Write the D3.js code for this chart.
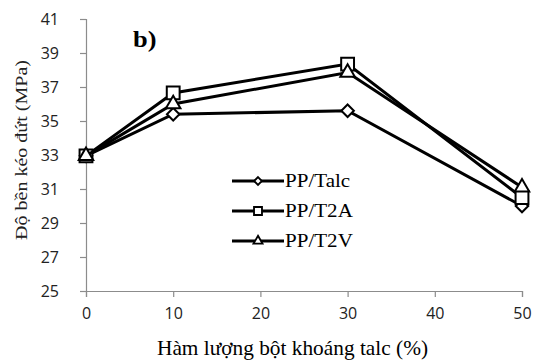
<!DOCTYPE html>
<html>
<head>
<meta charset="utf-8">
<script src="https://cdn.jsdelivr.net/npm/d3@7"></script>
<style>
  body { margin: 0; background: #fff; }
  .serif { font-family: 'Liberation Serif', 'Times New Roman', serif; }
</style>
</head>
<body>
<svg id="chart" width="539" height="363"></svg>
<script>
// talc content (%)
const talcContent = [0, 10, 30, 50]
const ppTalc = [32.95, 35.4, 35.6, 30.0]
const ppT2A = [32.95, 36.65, 38.35, 30.5]
const ppT2V = [32.95, 36.0, 37.85, 31.1]
const seriesNames = ['PP/Talc', 'PP/T2A', 'PP/T2V']
const seriesMarkers = ['diamond', 'square', 'triangle']
const xTicks = [0, 10, 20, 30, 40, 50]
const yTicks = [25, 27, 29, 31, 33, 35, 37, 39, 41]

const series = [ppTalc, ppT2A, ppT2V].map((vals, i) => ({
  name: seriesNames[i],
  marker: seriesMarkers[i],
  points: vals.map((v, j) => ({ x: talcContent[j], y: v }))
}))

const svg = d3.select('#chart')

const x = d3.scaleLinear().domain([0, 50]).range([86, 522])
const y = d3.scaleLinear().domain([25, 41]).range([291, 19])

// axes
const xAxis = svg.append('g')
  .attr('transform', `translate(0,${y(25)})`)
  .call(d3.axisBottom(x).tickValues(xTicks).tickSize(6).tickPadding(11))
const yAxis = svg.append('g')
  .attr('transform', `translate(${x(0)},0)`)
  .call(d3.axisLeft(y).tickValues(yTicks).tickSize(6).tickPadding(21))

for (const ax of [xAxis, yAxis]) {
  ax.select('.domain').attr('stroke', '#8c8c8c').attr('stroke-width', 1.2)
  ax.selectAll('.tick line').attr('stroke', '#8c8c8c').attr('stroke-width', 1.2)
  ax.selectAll('.tick text')
    .attr('fill', '#222')
    .style('font-family', "'Open Sans', sans-serif")
    .style('font-size', '16px')
}

const markerPath = {
  diamond: d3.symbol().type(d3.symbolDiamond2).size(100),
  square: d3.symbol().type(d3.symbolSquare2).size(210),
  triangle: d3.symbol().type(d3.symbolTriangle2).size(150)
}

const line = d3.line().x((d) => x(d.x)).y((d) => y(d.y))

const g = svg.append('g').selectAll('g')
  .data(series)
  .enter().append('g')

g.append('path')
  .attr('d', (d) => line(d.points))
  .attr('fill', 'none')
  .attr('stroke', '#000')
  .attr('stroke-width', 3)

g.each(function (s) {
  d3.select(this).selectAll('path.m')
    .data(s.points)
    .enter().append('path')
    .attr('class', 'm')
    .attr('d', markerPath[s.marker])
    .attr('transform', (d) => `translate(${x(d.x)},${y(d.y)})`)
    .attr('fill', '#fff')
    .attr('stroke', '#000')
    .attr('stroke-width', 2)
})

// legend
const legend = svg.append('g').selectAll('g')
  .data(series)
  .enter().append('g')
  .attr('transform', (d, i) => `translate(232,${181 + i * 30})`)

legend.append('line')
  .attr('x1', 0).attr('x2', 52)
  .attr('stroke', '#000').attr('stroke-width', 3)
legend.append('path')
  .attr('d', (d) => markerPath[d.marker]())
  .attr('transform', 'translate(26,0) scale(0.62)')
  .attr('fill', '#fff').attr('stroke', '#000').attr('stroke-width', 3)
legend.append('text')
  .attr('class', 'serif')
  .attr('transform', 'translate(53,0) scale(1.17,1)')
  .attr('dy', '0.35em')
  .style('font-size', '18px')
  .text((d) => d.name)

// panel label
svg.append('text')
  .attr('class', 'serif')
  .attr('transform', 'translate(133,47) scale(1.1,1)')
  .style('font-size', '24px')
  .style('font-weight', 'bold')
  .text('b)')

// axis titles
svg.append('text')
  .attr('class', 'serif')
  .attr('x', 157).attr('y', 355)
  .attr('textLength', 271)
  .attr('lengthAdjust', 'spacingAndGlyphs')
  .style('font-size', '21px')
  .text('Hàm lượng bột khoáng talc (%)')

svg.append('text')
  .attr('class', 'serif')
  .attr('transform', 'translate(27,240) rotate(-90)')
  .attr('textLength', 180)
  .attr('lengthAdjust', 'spacingAndGlyphs')
  .style('font-size', '16px')
  .attr('fill', '#222')
  .text('Độ bền kéo đứt (MPa)')
</script>
</body>
</html>
